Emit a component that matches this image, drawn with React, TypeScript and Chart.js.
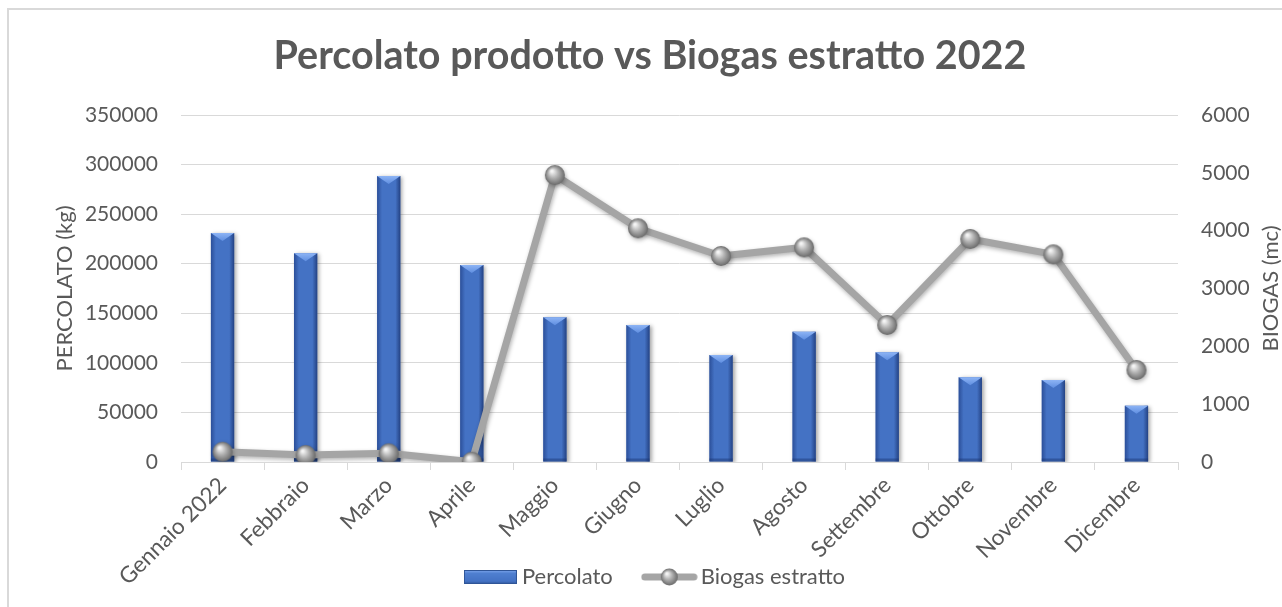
import React, { useEffect, useRef } from "react";
import { Chart, registerables } from "chart.js";

Chart.register(...registerables);

const categories = [
  "Gennaio 2022", "Febbraio", "Marzo", "Aprile", "Maggio", "Giugno",
  "Luglio", "Agosto", "Settembre", "Ottobre", "Novembre", "Dicembre",
];
const percolato = [231000, 210500, 288500, 198700, 146000, 138200, 107900, 131400, 110600, 85400, 82700, 56800];
const biogas = [178, 121, 150, 5, 4962, 4041, 3562, 3712, 2369, 3856, 3591, 1591];
const titleText = "Percolato prodotto vs Biogas estratto 2022";
const leftAxisTitle = "PERCOLATO (kg)";
const rightAxisTitle = "BIOGAS (mc)";
const seriesNames = ["Percolato", "Biogas estratto"];

const FONT = "Lato, 'Open Sans', sans-serif";
const TEXT = "#595959";
const GRID = "#D9D9D9";
const BLUE = "#4472C4";
const GRAY = "#A5A5A5";
const PLOT_BOTTOM = 462;
const LEGEND_CENTER_Y = 577;
const LEGEND_PAD = 36;
const LEGEND_FONT = 22;

function drawSphere(ctx: CanvasRenderingContext2D, cx: number, cy: number, r: number) {
  const g = ctx.createRadialGradient(cx - r * 0.3, cy - r * 0.4, r * 0.1, cx, cy, r);
  g.addColorStop(0, "#f4f4f4");
  g.addColorStop(0.45, "#b2b2b2");
  g.addColorStop(1, "#6a6a6a");
  ctx.beginPath();
  ctx.arc(cx, cy, r, 0, Math.PI * 2);
  ctx.fillStyle = g;
  ctx.fill();
}

function makeSphere(r: number) {
  const c = document.createElement("canvas");
  const s = Math.ceil(r * 2 + 4);
  c.width = s;
  c.height = s;
  const ctx = c.getContext("2d")!;
  drawSphere(ctx, s / 2, s / 2, r);
  return c;
}

function makeBarLegend() {
  const c = document.createElement("canvas");
  c.width = 53;
  c.height = 14;
  const ctx = c.getContext("2d")!;
  const g = ctx.createLinearGradient(0, 0, 0, 14);
  g.addColorStop(0, "#7fa8ee");
  g.addColorStop(0.25, "#4f7fd0");
  g.addColorStop(0.8, "#4472C4");
  g.addColorStop(1, "#2f5597");
  ctx.fillStyle = g;
  ctx.fillRect(0, 0, 53, 14);
  ctx.strokeStyle = "#2f5597";
  ctx.lineWidth = 1;
  ctx.strokeRect(0.5, 0.5, 52, 13);
  return c;
}

function makeLineLegend() {
  const c = document.createElement("canvas");
  c.width = 57;
  c.height = 20;
  const ctx = c.getContext("2d")!;
  ctx.strokeStyle = GRAY;
  ctx.lineWidth = 7;
  ctx.lineCap = "round";
  ctx.beginPath();
  ctx.moveTo(4, 10);
  ctx.lineTo(53, 10);
  ctx.stroke();
  drawSphere(ctx, 28.5, 10, 8.5);
  return c;
}

const decorPlugin = {
  id: "decor",
  afterLayout(chart: any) {
    if (chart.scales.x) chart.scales.x.bottom = chart.height;
    const lg = chart.legend;
    if (lg) {
      const h = lg.height;
      lg.top = LEGEND_CENTER_Y - LEGEND_PAD - LEGEND_FONT / 2;
      lg.bottom = lg.top + h;
      lg.left = 33;
      lg.right = chart.width;
    }
    const tb = chart.titleBlock;
    if (tb) {
      tb.left = 18;
      tb.right = chart.width;
    }
  },
  beforeDraw(chart: any) {
    const ctx = chart.ctx;
    ctx.save();
    ctx.fillStyle = "#ffffff";
    ctx.fillRect(0, 0, chart.width, chart.height);
    ctx.strokeStyle = GRID;
    ctx.lineWidth = 2;
    ctx.strokeRect(8, 9, chart.width + 20, chart.height + 20);
    ctx.restore();
  },
  beforeDatasetDraw(chart: any, args: any) {
    const ctx = chart.ctx;
    ctx.save();
    if (args.meta.type === "bar") {
      ctx.shadowColor = "rgba(0,0,0,0.35)";
      ctx.shadowBlur = 4;
      ctx.shadowOffsetX = 2;
      ctx.shadowOffsetY = 1;
    } else {
      ctx.shadowColor = "rgba(0,0,0,0.3)";
      ctx.shadowBlur = 4;
      ctx.shadowOffsetX = 1;
      ctx.shadowOffsetY = 2;
    }
  },
  afterDatasetDraw(chart: any, args: any) {
    const ctx = chart.ctx;
    ctx.restore();
    if (args.meta.type !== "bar") return;
    ctx.save();
    args.meta.data.forEach((el: any) => {
      const { x, y, base, width } = el.getProps(["x", "y", "base", "width"], true);
      const l = x - width / 2;
      const r = x + width / 2;
      const h = base - y;
      let g = ctx.createLinearGradient(l, 0, l + 5, 0);
      g.addColorStop(0, "rgba(30,60,130,0.65)");
      g.addColorStop(1, "rgba(30,60,130,0)");
      ctx.fillStyle = g;
      ctx.fillRect(l, y, 5, h);
      g = ctx.createLinearGradient(r, 0, r - 5, 0);
      g.addColorStop(0, "rgba(25,50,110,0.75)");
      g.addColorStop(1, "rgba(25,50,110,0)");
      ctx.fillStyle = g;
      ctx.fillRect(r - 5, y, 5, h);
      ctx.fillStyle = "rgba(25,50,110,0.45)";
      ctx.fillRect(l, base - 3, width, 3);
      ctx.beginPath();
      ctx.moveTo(l, y);
      ctx.lineTo(r, y);
      ctx.lineTo(x, y + Math.min(8, h));
      ctx.closePath();
      const tg = ctx.createLinearGradient(0, y, 0, y + 8);
      tg.addColorStop(0, "#8db4f5");
      tg.addColorStop(1, "#5f8ee0");
      ctx.fillStyle = tg;
      ctx.fill();
    });
    ctx.restore();
  },
  afterDraw(chart: any) {
    const ctx = chart.ctx;
    const area = chart.chartArea;
    ctx.save();
    ctx.fillStyle = TEXT;
    ctx.font = `22px ${FONT}`;
    ctx.textAlign = "center";
    ctx.textBaseline = "middle";
    ctx.translate(1271, (area.top + area.bottom) / 2);
    ctx.rotate(-Math.PI / 2);
    ctx.fillText(rightAxisTitle, 0, 0);
    ctx.restore();
  },
};

export default function App() {
  const ref = useRef<HTMLCanvasElement | null>(null);
  useEffect(() => {
    if (!ref.current) return;
    const sphere = makeSphere(10);
    const barLegend = makeBarLegend();
    const lineLegend = makeLineLegend();
    const plain = (v: any) => String(v);
    const chart = new Chart(ref.current, {
      data: {
        labels: categories,
        datasets: [
          {
            type: "bar",
            label: seriesNames[0],
            data: percolato,
            yAxisID: "y",
            backgroundColor: BLUE,
            borderWidth: 0,
            categoryPercentage: 1,
            barPercentage: 0.28,
            order: 1,
          },
          {
            type: "line",
            label: seriesNames[1],
            data: biogas,
            yAxisID: "y1",
            borderColor: GRAY,
            borderWidth: 7,
            borderJoinStyle: "round",
            tension: 0,
            pointStyle: sphere as any,
            pointRadius: 10,
            pointHoverRadius: 10,
            order: 0,
          },
        ],
      } as any,
      options: {
        responsive: false,
        animation: false,
        events: [],
        layout: { padding: { left: 52, right: 0, top: 0, bottom: 0 } },
        scales: {
          x: {
            offset: true,
            grid: {
              offset: true,
              drawOnChartArea: false,
              drawTicks: true,
              tickLength: 8,
              color: GRID,
            },
            border: { display: true, color: GRID, width: 1 },
            ticks: {
              color: TEXT,
              font: { family: FONT, size: 22.5 },
              minRotation: 45,
              maxRotation: 45,
              padding: 2,
              autoSkip: false,
            },
            afterFit(scale: any) {
              const lh = scale.chart.legend ? scale.chart.legend.height : 0;
              scale.height = scale.chart.height - PLOT_BOTTOM - lh;
            },
          },
          y: {
            position: "left",
            min: 0,
            max: 350000,
            ticks: {
              stepSize: 50000,
              color: TEXT,
              font: { family: FONT, size: 21 },
              padding: 23,
              callback: plain,
            },
            grid: { color: GRID, lineWidth: 1, drawTicks: false },
            border: { display: false },
            title: {
              display: true,
              text: leftAxisTitle,
              color: TEXT,
              font: { family: FONT, size: 22 },
              padding: 0,
            },
            afterFit(scale: any) {
              scale.width = 129;
            },
          },
          y1: {
            position: "right",
            min: 0,
            max: 6000,
            ticks: {
              stepSize: 1000,
              color: TEXT,
              font: { family: FONT, size: 21 },
              padding: 23,
              callback: plain,
            },
            grid: { drawOnChartArea: false, drawTicks: false },
            border: { display: false },
            afterFit(scale: any) {
              scale.width = 104;
            },
          },
        },
        plugins: {
          title: {
            display: true,
            text: titleText,
            color: TEXT,
            font: { family: FONT, size: 39.5, weight: "bold" },
            padding: { top: 33, bottom: 34.6 },
          },
          legend: {
            display: true,
            position: "bottom",
            labels: {
              color: TEXT,
              font: { family: FONT, size: LEGEND_FONT },
              usePointStyle: true,
              pointStyleWidth: 41,
              boxHeight: LEGEND_FONT,
              padding: LEGEND_PAD,
              generateLabels: () => [
                {
                  text: seriesNames[0],
                  pointStyle: barLegend,
                  fillStyle: BLUE,
                  strokeStyle: "transparent",
                  lineWidth: 0,
                  hidden: false,
                  datasetIndex: 0,
                  fontColor: TEXT,
                },
                {
                  text: seriesNames[1],
                  pointStyle: lineLegend,
                  fillStyle: GRAY,
                  strokeStyle: "transparent",
                  lineWidth: 0,
                  hidden: false,
                  datasetIndex: 1,
                  fontColor: TEXT,
                },
              ] as any,
            },
          },
          tooltip: { enabled: false },
        },
      } as any,
      plugins: [decorPlugin],
    });
    return () => chart.destroy();
  }, []);
  return (
    <div style={{ position: "absolute", left: 0, top: 0, width: 1282, height: 607 }}>
      <canvas ref={ref} width={1282} height={607} style={{ display: "block", width: 1282, height: 607 }} />
    </div>
  );
}
